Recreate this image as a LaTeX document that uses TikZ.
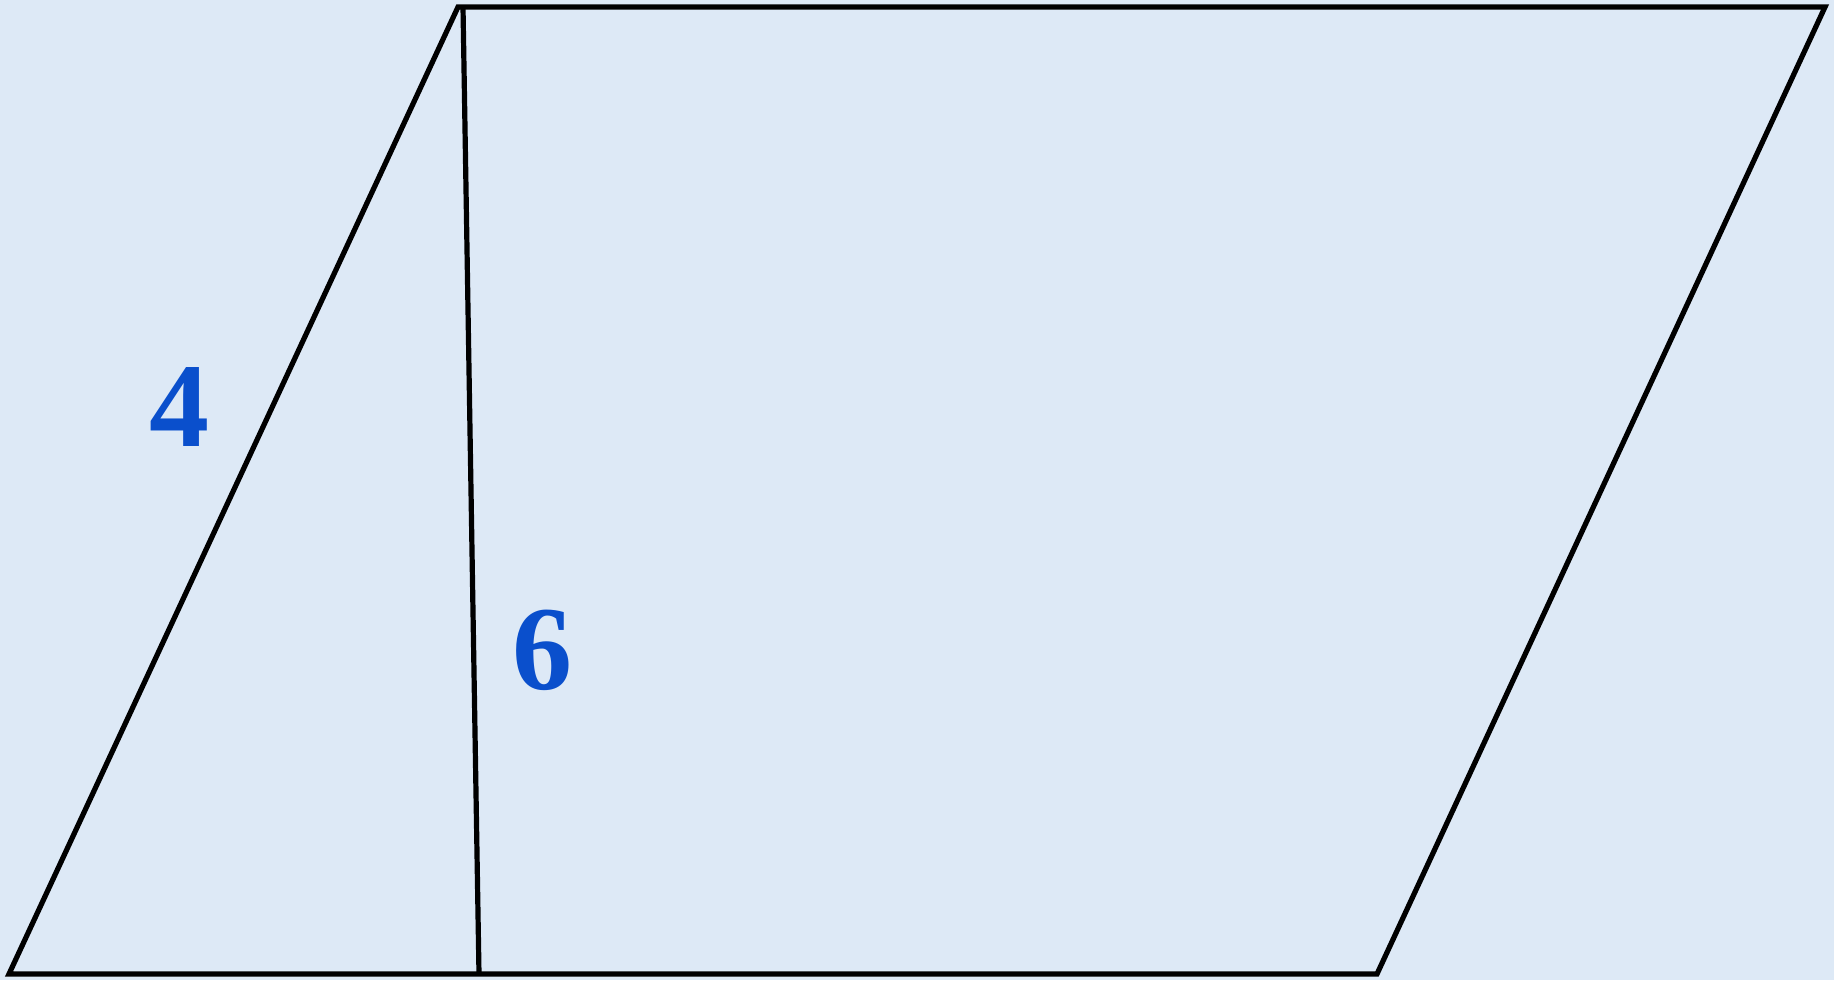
\documentclass[tikz,border=0pt]{standalone}
\usepackage{fontspec}
\setmainfont{Liberation Serif}
\definecolor{bgblue}{HTML}{DDE9F6}
\definecolor{numblue}{HTML}{0A4FCC}
\begin{document}
\begin{tikzpicture}[x=1pt,y=-1pt,
  edge/.style={draw=black,line width=5.2pt,line join=miter},
  num/.style={text=numblue,font=\fontsize{120}{120}\selectfont\bfseries,inner sep=0pt}]
\fill[bgblue] (0,0) rectangle (1834,980);
\useasboundingbox (0,0) rectangle (1834,980);
\coordinate (A) at (9,974);
\coordinate (B) at (1377,974);
\coordinate (C) at (1825,7);
\coordinate (D) at (458,7);
\coordinate (H1) at (463,7);
\coordinate (H2) at (479,974);
\draw[edge] (A) -- (B) -- (C) -- (D) -- cycle;
\draw[edge] (H1) -- (H2);
\node[num] (four) at (179,407) {4};
\node[num] (six) at (542,650) {6};
\end{tikzpicture}
\end{document}
